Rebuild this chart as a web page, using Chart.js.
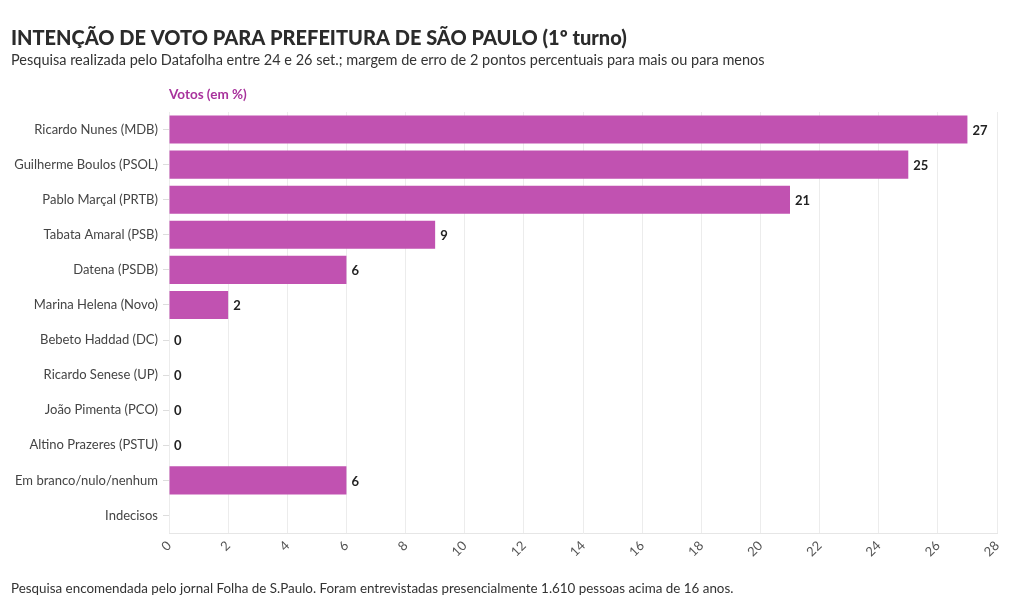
<!DOCTYPE html>
<html lang="pt">
	<head>
		<meta charset="UTF-8" />
		<title>Intenção de voto</title>
		<script src="https://cdn.jsdelivr.net/npm/chart.js@4.4.1/dist/chart.umd.min.js"></script>
		<style>
			body { margin: 0; background: #fff; }
		</style>
	</head>
	<body>
		<canvas id="chart" width="1020" height="609"></canvas>
		<script>
			const FONT = "Lato";

			const candidates = [
				"Ricardo Nunes (MDB)",
				"Guilherme Boulos (PSOL)",
				"Pablo Marçal (PRTB)",
				"Tabata Amaral (PSB)",
				"Datena (PSDB)",
				"Marina Helena (Novo)",
				"Bebeto Haddad (DC)",
				"Ricardo Senese (UP)",
				"João Pimenta (PCO)",
				"Altino Prazeres (PSTU)",
				"Em branco/nulo/nenhum",
				"Indecisos",
			];
			const votes = [27, 25, 21, 9, 6, 2, 0, 0, 0, 0, 6, null];
			const xTicks = [0, 2, 4, 6, 8, 10, 12, 14, 16, 18, 20, 22, 24, 26, 28];

			const title = "INTENÇÃO DE VOTO PARA PREFEITURA DE SÃO PAULO (1º turno)";
			const subtitle = "Pesquisa realizada pelo Datafolha entre 24 e 26 set.; margem de erro de 2 pontos percentuais para mais ou para menos";
			const axisTitle = "Votos (em %)";
			const footer = "Pesquisa encomendada pelo jornal Folha de S.Paulo. Foram entrevistadas presencialmente 1.610 pessoas acima de 16 anos.";

			// header, footer and value labels
			const textPlugin = {
				id: "texts",
				afterDatasetsDraw(chart) {
					const c = chart.ctx;
					const area = chart.chartArea;
					c.save();
					c.textBaseline = "middle";
					c.textAlign = "left";

					c.fillStyle = "#2b2b2b";
					c.font = `900 20px ${FONT}`;
					c.fillText(title, 11, 39);
					c.fillStyle = "#333";
					c.font = `14.5px ${FONT}`;
					c.fillText(subtitle, 11, 60);

					c.fillStyle = "#a8329c";
					c.font = `bold 13.5px ${FONT}`;
					c.fillText(axisTitle, area.left, 95);

					c.fillStyle = "#333";
					c.font = `13.4px ${FONT}`;
					c.fillText(footer, 11, 589);

					c.fillStyle = "#222";
					c.font = `bold 13px ${FONT}`;
					chart.getDatasetMeta(0).data.forEach((bar, i) => {
						if (votes[i] === null) return;
						c.fillText(String(votes[i]), bar.x + 5, bar.y + 1);
					});
					c.restore();
				},
			};

			new Chart(document.getElementById("chart"), {
				type: "bar",
				data: {
					labels: candidates,
					datasets: [
						{
							data: votes,
							backgroundColor: "#c152b1",
							barPercentage: 0.8,
							categoryPercentage: 1,
						},
					],
				},
				options: {
					indexAxis: "y",
					responsive: false,
					animation: false,
					layout: { padding: { top: 112, right: 23, bottom: 36, left: 0 } },
					plugins: {
						legend: { display: false },
						tooltip: { enabled: false },
					},
					scales: {
						x: {
							min: 0,
							max: 28,
							afterBuildTicks: (s) => { s.ticks = xTicks.map((v) => ({ value: v })); },
							afterFit: (s) => { s.height = 40; },
							grid: { color: "#ececec", drawTicks: false },
							border: { color: "#e6e6e6" },
							ticks: {
								minRotation: 45,
								maxRotation: 45,
								padding: 5,
								color: "#555",
								font: { family: FONT, size: 13 },
							},
						},
						y: {
							afterFit: (s) => { s.width = 169; },
							grid: { drawOnChartArea: false, offset: false, tickLength: 6, color: "#ddd" },
							border: { display: false },
							ticks: {
								padding: 5,
								color: "#444",
								font: { family: FONT, size: 13 },
							},
						},
					},
				},
				plugins: [textPlugin],
			});
		</script>
	</body>
</html>
